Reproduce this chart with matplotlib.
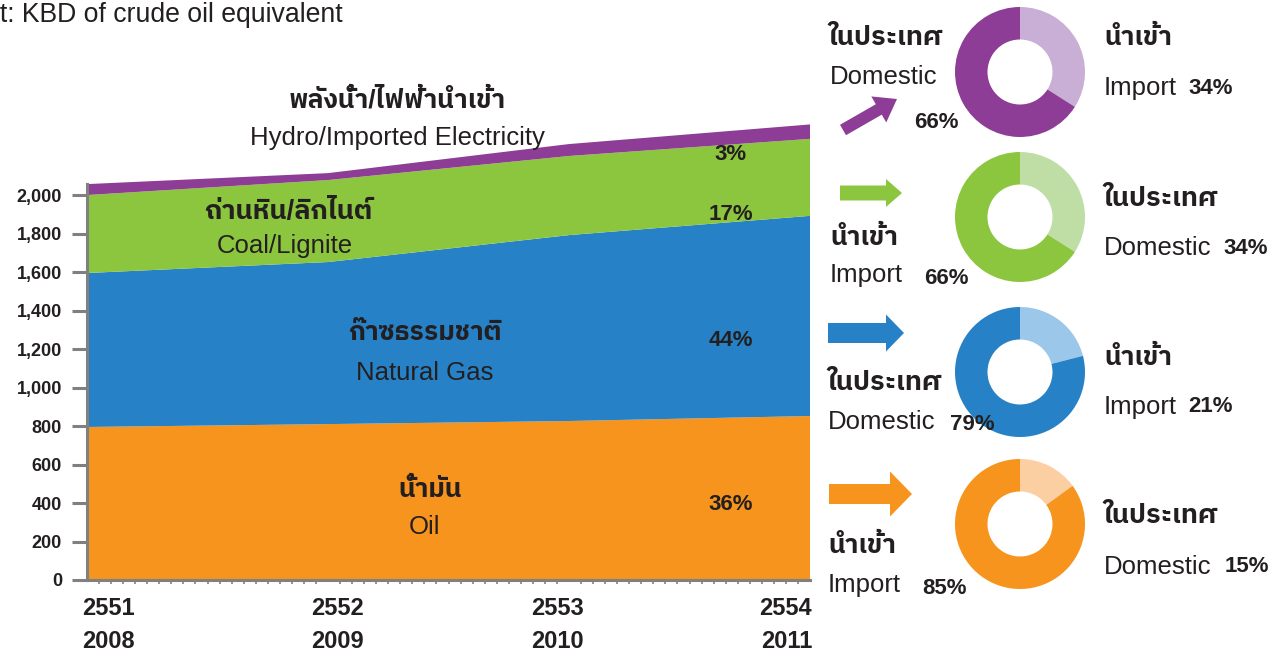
import numpy as np
import matplotlib
matplotlib.use('Agg')
import matplotlib.pyplot as plt
import matplotlib.transforms as mtransforms
from matplotlib import font_manager as fm
from matplotlib.ft2font import FT2Font
from matplotlib.patches import FancyArrow
from matplotlib.ticker import MultipleLocator

# Energy supply by fuel, KBD of crude oil equivalent
years_be = ['2551', '2552', '2553', '2554']
years_ad = ['2008', '2009', '2010', '2011']
oil = [795, 810, 826, 852]
gas = [800, 842, 966, 1040]
coal = [405, 426, 411, 400]
hydro = [57, 36, 62, 75]

# Domestic / import split of each fuel, first slice starts at 12 o'clock
hydro_split = [34, 66]   # import, domestic
coal_split = [34, 66]    # domestic, import
gas_split = [21, 79]     # import, domestic
oil_split = [15, 85]     # domestic, import

C_OIL, C_OIL_L = '#F7941D', '#FBCFA2'
C_GAS, C_GAS_L = '#2681C6', '#9BC7EA'
C_COAL, C_COAL_L = '#8CC63F', '#BFDEA5'
C_HYD, C_HYD_L = '#8E3D96', '#C9AFD5'
TXT = '#231F20'
GREY = '#808080'


def find_thai_font():
    # prefer a Thai-capable family that also ships a bold face
    found = {}
    for f in fm.fontManager.ttflist:
        try:
            cmap = FT2Font(f.fname).get_charmap()
        except Exception:
            continue
        if 0x0E01 in cmap:
            w = f.weight if isinstance(f.weight, int) else 400
            found.setdefault(f.name, set()).add(w)

    def rank(n):
        bold = any(w >= 600 for w in found[n])
        return (not bold, 'Looped' in n, 'Thai' not in n)
    names = sorted(found, key=rank)
    return names[0] if names else 'DejaVu Sans'


THAI = find_thai_font()
plt.rcParams['font.family'] = ['Liberation Sans', THAI, 'DejaVu Sans']

fig = plt.figure(figsize=(12.88, 6.59), dpi=100)

# ---- stacked area chart ----
ax = fig.add_axes([87 / 1288, 79 / 659, 723 / 1288, 460 / 659])
x = np.arange(len(years_be))
ax.stackplot(x, oil, gas, coal, hydro,
             colors=[C_OIL, C_GAS, C_COAL, C_HYD], linewidth=0)
ax.set_xlim(0, 3)
ax.set_ylim(0, 2390)
total = np.sum([oil, gas, coal, hydro], axis=0)

for s in ['top', 'right']:
    ax.spines[s].set_visible(False)
for s in ['left', 'bottom']:
    ax.spines[s].set_color(GREY)
    ax.spines[s].set_linewidth(2.2)
ax.spines['left'].set_bounds(0, total[0])

ax.set_yticks(np.arange(0, 2001, 200))
ax.set_yticklabels([f'{v:,}' for v in range(0, 2001, 200)],
                   fontsize=13, fontweight='bold', color=TXT)
ax.tick_params(axis='y', length=11, width=2.2, color=GREY, pad=7)

ax.set_xticks(x)
ax.set_xticklabels([f'{b}\n{a}' for b, a in zip(years_be, years_ad)],
                   fontsize=17, fontweight='bold', color=TXT, linespacing=1.6)
ax.tick_params(axis='x', which='major', length=0, pad=12)
ax.xaxis.set_minor_locator(MultipleLocator(0.05))
ax.tick_params(axis='x', which='minor', length=3, width=1.2, color=GREY)
tl = ax.get_xticklabels()
tl[0].set_ha('left')
tl[-1].set_ha('right')
# nudge the year labels sideways a little
for lab, dx in zip(tl, [-5, 9, -12, 2]):
    lab.set_transform(lab.get_transform() +
                      mtransforms.ScaledTranslation(dx / 100, 0, fig.dpi_scale_trans))

# ---- overlay in pixel coordinates for labels, arrows ----
ov = fig.add_axes([0, 0, 1, 1], zorder=5)
ov.set_xlim(0, 1288)
ov.set_ylim(659, 0)
ov.axis('off')
ov.patch.set_alpha(0)


def txt(px, py, s, size=18.5, bold=False, ha='center'):
    ov.text(px, py, s, fontsize=size, fontweight='bold' if bold else 'normal',
            ha=ha, va='center', color=TXT)


TH = 19  # size of the bold Thai captions

txt(-40, 15, 'Unit: KBD of crude oil equivalent', size=19.2, ha='left')

txt(397, 100, 'พลังน้ำ/ไฟฟ้านำเข้า', size=TH, bold=True)
txt(397, 138, 'Hydro/Imported Electricity')
txt(288, 212, 'ถ่านหิน/ลิกไนต์', size=TH + 0.5, bold=True)
txt(285, 246, 'Coal/Lignite')
txt(425, 333, 'ก๊าซธรรมชาติ', size=TH, bold=True)
txt(425, 373, 'Natural Gas')
txt(430, 490, 'น้ำมัน', size=TH, bold=True)
txt(425, 527, 'Oil')

shares = [round(v / total[-1] * 100) for v in (hydro[-1], coal[-1], gas[-1], oil[-1])]
for s, py in zip(shares, [155, 214, 341, 504]):
    txt(731, py, f'{s}%', size=16, bold=True)

# ---- arrows ----
arrows = [((843, 130), (54, -31), 12, 30, 21, C_HYD),
          ((840, 193), (62, 0), 15, 28, 16, C_COAL),
          ((828, 333), (76, 0), 20, 37, 18, C_GAS),
          ((829, 494), (83, 0), 20, 45, 22, C_OIL)]
for (ax0, ay0), (dx, dy), w, hw, hl, c in arrows:
    ov.add_patch(FancyArrow(ax0, ay0, dx, dy, width=w, head_width=hw,
                            head_length=hl, length_includes_head=True,
                            color=c, lw=0))

# ---- donuts ----
donuts = [(72, hydro_split, [C_HYD_L, C_HYD]),
          (217, coal_split, [C_COAL_L, C_COAL]),
          (372, gas_split, [C_GAS_L, C_GAS]),
          (524, oil_split, [C_OIL_L, C_OIL])]
R = 65
for cy, split, cols in donuts:
    dax = fig.add_axes([(1020 - R) / 1288, (659 - cy - R) / 659,
                        2 * R / 1288, 2 * R / 659])
    dax.pie(split, colors=cols, startangle=90, counterclock=False,
            radius=1, wedgeprops=dict(width=0.5, linewidth=0))
    dax.set_xlim(-1, 1)
    dax.set_ylim(-1, 1)
    dax.set_aspect('equal')
    dax.axis('off')

# left-hand labels of the donuts
txt(828, 38, 'ในประเทศ', size=TH + 0.5, bold=True, ha='left')
txt(830, 77, 'Domestic', ha='left')
txt(914, 122, f'{hydro_split[1]}%', size=16, bold=True, ha='left')

txt(830, 238, 'นำเข้า', size=TH, bold=True, ha='left')
txt(830, 275, 'Import', ha='left')
txt(924, 278, f'{coal_split[1]}%', size=16, bold=True, ha='left')

txt(827, 383, 'ในประเทศ', size=TH + 0.5, bold=True, ha='left')
txt(828, 422, 'Domestic', ha='left')
txt(950, 424, f'{gas_split[1]}%', size=16, bold=True, ha='left')

txt(828, 546, 'นำเข้า', size=TH, bold=True, ha='left')
txt(828, 585, 'Import', ha='left')
txt(922, 588, f'{oil_split[1]}%', size=16, bold=True, ha='left')

# right-hand labels of the donuts
txt(1104, 38, 'นำเข้า', size=TH, bold=True, ha='left')
txt(1104, 88, 'Import', ha='left')
txt(1188, 88, f'{hydro_split[0]}%', size=16, bold=True, ha='left')

txt(1103, 199, 'ในประเทศ', size=TH + 0.5, bold=True, ha='left')
txt(1104, 248, 'Domestic', ha='left')
txt(1223, 248, f'{coal_split[0]}%', size=16, bold=True, ha='left')

txt(1104, 358, 'นำเข้า', size=TH, bold=True, ha='left')
txt(1104, 407, 'Import', ha='left')
txt(1188, 407, f'{gas_split[0]}%', size=16, bold=True, ha='left')

txt(1103, 516, 'ในประเทศ', size=TH + 0.5, bold=True, ha='left')
txt(1104, 567, 'Domestic', ha='left')
txt(1225, 567, f'{oil_split[0]}%', size=16, bold=True, ha='left')

fig.savefig('out.png', dpi=100)
